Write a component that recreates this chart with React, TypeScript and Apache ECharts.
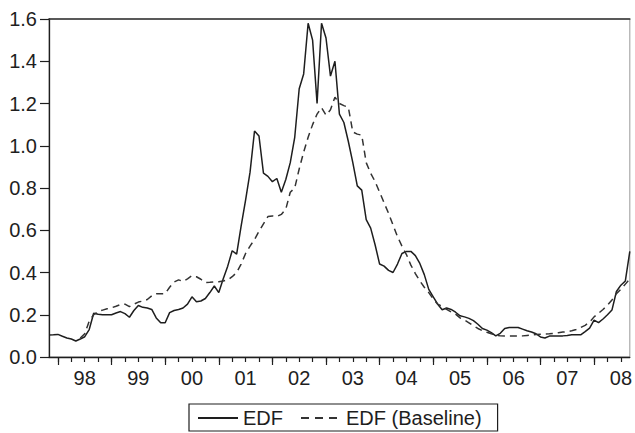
import React, { useEffect, useRef } from "react";
import * as echarts from "echarts";

// Monthly observations, Nov 1997 – Sep 2008
const START_YEAR = 1997;
const START_MONTH = 11;
const N_MONTHS = 131;
const months: string[] = [];
for (let i = 0; i < N_MONTHS; i++) {
  const m0 = START_MONTH - 1 + i;
  const y = START_YEAR + Math.floor(m0 / 12);
  const m = (m0 % 12) + 1;
  months.push(`${y}-${m < 10 ? "0" + m : m}`);
}

const yTicks = [0, 0.2, 0.4, 0.6, 0.8, 1.0, 1.2, 1.4, 1.6];

const edf: number[] = [
  0.104, 0.105, 0.107, 0.098, 0.09, 0.085, 0.076, 0.085, 0.096, 0.13,
  0.207, 0.202, 0.2, 0.2, 0.2, 0.208, 0.215, 0.205, 0.188, 0.22,
  0.244, 0.235, 0.232, 0.225, 0.185, 0.162, 0.162, 0.21, 0.22, 0.225,
  0.232, 0.25, 0.285, 0.262, 0.265, 0.277, 0.305, 0.336, 0.305, 0.37,
  0.43, 0.503, 0.487, 0.62, 0.743, 0.875, 1.07, 1.046, 0.87, 0.855,
  0.83, 0.845, 0.78, 0.84, 0.92, 1.04, 1.27, 1.34, 1.58, 1.5,
  1.2, 1.58, 1.51, 1.33, 1.4, 1.15, 1.11, 1.02, 0.92, 0.81,
  0.79, 0.65, 0.61, 0.53, 0.44, 0.43, 0.41, 0.4, 0.44, 0.49,
  0.5, 0.5, 0.48, 0.443, 0.39, 0.32, 0.285, 0.25, 0.224, 0.232,
  0.225, 0.212, 0.195, 0.19, 0.183, 0.172, 0.155, 0.135, 0.127, 0.115,
  0.1, 0.112, 0.135, 0.14, 0.14, 0.14, 0.132, 0.124, 0.118, 0.11,
  0.095, 0.09, 0.099, 0.1, 0.1, 0.1, 0.102, 0.105, 0.105, 0.105,
  0.12, 0.137, 0.175, 0.163, 0.18, 0.2, 0.222, 0.31, 0.34, 0.36,
  0.5,
];

const edfBaseline: (number | null)[] = [
  null, null, null, null, null, null, null, 0.09, 0.11, 0.17,
  0.2, 0.215, 0.222, 0.228, 0.233, 0.24, 0.248, 0.25, 0.238, 0.25,
  0.26, 0.265, 0.272, 0.29, 0.3, 0.3, 0.3, 0.33, 0.355, 0.365,
  0.358, 0.37, 0.385, 0.38, 0.368, 0.353, 0.354, 0.356, 0.356, 0.36,
  0.365, 0.38, 0.4, 0.44, 0.49, 0.525, 0.556, 0.595, 0.63, 0.665,
  0.668, 0.665, 0.675, 0.7, 0.78, 0.8, 0.89, 0.97, 1.04, 1.1,
  1.15, 1.18, 1.145, 1.17, 1.23, 1.2, 1.19, 1.182, 1.065, 1.055,
  1.05, 0.92, 0.87, 0.83, 0.78, 0.73, 0.68, 0.625, 0.57, 0.525,
  0.485, 0.435, 0.395, 0.36, 0.33, 0.305, 0.275, 0.25, 0.24, 0.225,
  0.213, 0.203, 0.185, 0.175, 0.162, 0.148, 0.135, 0.125, 0.117, 0.11,
  0.103, 0.1, 0.099, 0.099, 0.099, 0.099, 0.1, 0.102, 0.104, 0.106,
  0.108, 0.109, 0.11, 0.112, 0.115, 0.118, 0.12, 0.124, 0.13, 0.14,
  0.15, 0.165, 0.19, 0.207, 0.225, 0.245, 0.27, 0.3, 0.32, 0.345,
  0.37,
];

const seriesNames = ["EDF", "EDF (Baseline)"];

const FONT = "'Liberation Sans', Arial, Helvetica, sans-serif";
const INK = "#1e1e1e";

const monthOf = (i: number) => parseInt(months[i].slice(5), 10);

export default function App() {
  const ref = useRef<HTMLDivElement>(null);
  useEffect(() => {
    if (!ref.current) return;
    const chart = echarts.init(ref.current, undefined, { renderer: "svg" });
    chart.setOption({
      animation: false,
      backgroundColor: "#ffffff",
      textStyle: { fontFamily: FONT },
      grid: {
        left: 49,
        top: 19,
        right: 2,
        bottom: 76,
        show: true,
        borderColor: "#9a9a9a",
        borderWidth: 1,
      },
      legend: {
        left: 189,
        top: 404,
        orient: "horizontal",
        padding: [4, 16, 3, 8],
        itemGap: 17,
        itemWidth: 40,
        itemHeight: 14,
        borderColor: INK,
        borderWidth: 1.2,
        borderRadius: 0,
        itemStyle: { opacity: 0, borderWidth: 0 },
        textStyle: { fontSize: 20, color: INK, fontFamily: FONT },
        data: [
          { name: seriesNames[0] },
          { name: seriesNames[1], lineStyle: { type: [8, 6] } },
        ],
      },
      xAxis: [
        {
          type: "category",
          data: months,
          boundaryGap: false,
          position: "bottom",
          axisLine: { show: true, onZero: false, lineStyle: { color: INK, width: 1.3 } },
          axisTick: {
            show: true,
            length: 5,
            interval: (i: number) => [1, 4, 7, 10].includes(monthOf(i)),
            lineStyle: { color: INK, width: 1.2 },
          },
          axisLabel: {
            show: true,
            interval: (i: number) => monthOf(i) === 7,
            formatter: (v: string) => v.slice(2, 4),
            fontSize: 20,
            color: INK,
            margin: 11,
            fontFamily: FONT,
          },
          splitLine: { show: false },
        },
        {
          type: "category",
          data: months,
          boundaryGap: false,
          position: "bottom",
          axisLine: { show: false, onZero: false },
          axisTick: {
            show: true,
            length: 8,
            interval: (i: number) => monthOf(i) === 1,
            lineStyle: { color: INK, width: 1.2 },
          },
          axisLabel: { show: false },
          splitLine: { show: false },
        },
        {
          type: "category",
          data: months,
          boundaryGap: false,
          position: "top",
          axisLine: { show: true, onZero: false, lineStyle: { color: "#333", width: 1.6 } },
          axisTick: { show: false },
          axisLabel: { show: false },
          splitLine: { show: false },
        },
      ],
      yAxis: {
        type: "value",
        min: yTicks[0],
        max: yTicks[yTicks.length - 1],
        interval: 0.2,
        axisLine: { show: true, lineStyle: { color: INK, width: 1.3 } },
        axisTick: { show: true, length: 9, lineStyle: { color: INK, width: 1.2 } },
        axisLabel: {
          formatter: (v: number) => v.toFixed(1),
          fontSize: 20,
          color: INK,
          margin: 12,
          fontFamily: FONT,
          showMinLabel: true,
          showMaxLabel: true,
        },
        splitLine: { show: false },
      },
      series: [
        {
          name: seriesNames[0],
          type: "line",
          xAxisIndex: 0,
          data: edf,
          symbol: "none",
          showSymbol: false,
          lineStyle: { color: INK, width: 1.5, type: "solid" },
          itemStyle: { color: INK },
        },
        {
          name: seriesNames[1],
          type: "line",
          xAxisIndex: 0,
          data: edfBaseline,
          symbol: "none",
          showSymbol: false,
          connectNulls: false,
          lineStyle: { color: "#333", width: 1.5, type: [7, 5] },
          itemStyle: { color: "#333" },
        },
      ],
    });
    return () => chart.dispose();
  }, []);
  return (
    <div
      ref={ref}
      style={{ position: "absolute", left: 0, top: 0, width: 635, height: 433 }}
    />
  );
}
